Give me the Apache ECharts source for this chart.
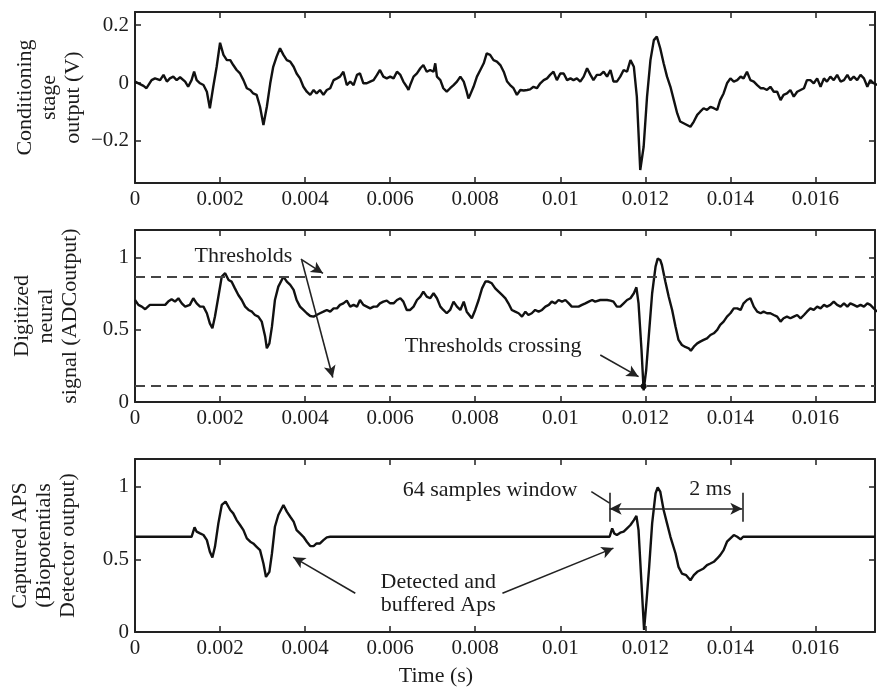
<!DOCTYPE html>
<html><head><meta charset="utf-8">
<script src="https://cdn.jsdelivr.net/npm/echarts@6/dist/echarts.min.js"></script>
<style>html,body{margin:0;padding:0;background:#fff}#c{width:877px;height:690px}</style>
</head><body><div id="c"></div>
<script>
// ---------- tick labels ----------
const timeTicks = [0, 0.002, 0.004, 0.006, 0.008, 0.01, 0.012, 0.014, 0.016];
const condTicks = [-0.2, 0, 0.2];
const adcTicks = [0, 0.5, 1];
const thresholds = [0.87, 0.11];

// ---------- panel 1: conditioning stage output (V) ----------
const condTime = [0,0.00004,0.00020,0.00027,0.00039,0.00047,0.00059,0.00067,0.00075,0.00082,0.00090,0.00098,0.00106,0.00118,0.00125,0.00133,0.00139,0.00145,0.00153,0.00161,0.00169,0.00176,0.00184,0.00192,0.00200,0.00208,0.00216,0.00224,0.00231,0.00239,0.00247,0.00255,0.00263,0.00271,0.00278,0.00286,0.00294,0.00302,0.00310,0.00318,0.00325,0.00333,0.00341,
0.00349,0.00357,0.00365,0.00373,0.00380,0.00388,0.00396,0.00404,0.00412,0.00420,0.00427,0.00435,0.00443,0.00451,0.00459,0.00467,0.00475,0.00482,0.00490,0.00498,0.00506,0.00514,0.00522,0.00529,0.00537,0.00545,0.00553,0.00561,0.00569,0.00576,0.00584,0.00592,0.00600,0.00608,0.00616,0.00624,0.00631,0.00639,0.00643,0.00647,0.00655,0.00663,0.00671,0.00678,0.00686,0.00694,0.00702,0.00706,0.00710,0.00718,0.00725,0.00733,0.00741,0.00749,0.00757,0.00765,0.00773,0.00780,0.00784,0.00788,0.00796,0.00804,0.00812,0.00820,0.00827,0.00835,0.00843,0.00851,0.00859,0.00867,0.00875,0.00882,0.00890,0.00898,0.00906,0.00914,0.00922,0.00929,0.00937,0.00945,0.00953,0.00961,0.00969,0.00976,0.00984,0.00992,0.01000,0.01008,0.01016,0.01024,0.01031,0.01039,0.01047,0.01055,0.01063,0.01071,0.01078,0.01086,
0.01094,0.01102,0.01110,0.01118,0.01125,0.01133,0.01141,0.01149,0.01157,0.01165,0.01173,0.01180,0.01188,0.01196,0.01204,0.01212,0.01220,0.01227,0.01235,0.01243,0.01251,0.01259,0.01267,0.01275,0.01282,0.01290,0.01298,0.01306,0.01314,0.01322,0.01329,0.01337,0.01345,0.01353,0.01361,0.01369,0.01376,0.01384,0.01392,0.01400,0.01408,0.01416,0.01424,0.01431,0.01439,0.01447,0.01455,0.01463,0.01471,0.01478,0.01486,0.01494,0.01502,0.01510,0.01518,0.01525,0.01533,0.01541,0.01549,0.01557,0.01565,0.01573,0.01580,0.01588,0.01596,0.01604,0.01612,0.01620,0.01627,0.01635,0.01643,0.01651,0.01659,0.01667,0.01675,0.01682,0.01690,0.01698,0.01706,0.01714,0.01722,0.01729,0.01737,0.01745];
const condValue = [0.005,-0.001,-0.010,-0.018,0.010,0.016,0.010,0.028,0.005,0.016,0.022,0.010,0.020,0.005,-0.013,0.010,0.039,0.010,-0.001,-0.007,-0.030,-0.087,-0.013,0.056,0.139,0.097,0.079,0.079,0.062,0.045,0.033,0.010,-0.018,-0.024,-0.036,-0.041,-0.082,-0.145,-0.082,-0.001,0.056,0.091,0.120,
0.097,0.079,0.074,0.056,0.033,0.016,-0.013,-0.030,-0.041,-0.024,-0.036,-0.024,-0.041,-0.024,-0.018,0.010,0.016,0.022,0.039,-0.007,0.005,-0.007,0.028,0.033,-0.001,-0.001,0.005,0.010,0.028,0.045,0.022,0.016,0.022,0.016,0.039,0.028,0.005,-0.013,-0.024,-0.007,0.022,0.033,0.051,0.062,0.039,0.045,0.039,0.068,0.022,0.010,-0.018,-0.030,-0.018,-0.007,0.005,0.022,0.005,-0.030,-0.053,-0.041,-0.013,0.022,0.045,0.068,0.102,0.097,0.079,0.074,0.062,0.039,0.005,-0.007,-0.018,-0.041,-0.024,-0.026,-0.024,-0.022,-0.013,-0.018,-0.001,0.010,0.016,0.028,0.039,0.010,0.033,0.033,0.010,0.016,0.010,0.016,0.005,0.022,0.051,0.028,0.010,0.028,
0.028,0.039,0.022,0.045,0.005,0.005,0.022,0.045,0.039,0.079,0.056,-0.047,-0.300,-0.220,-0.047,0.079,0.148,0.160,0.120,0.068,0.022,-0.013,-0.059,-0.105,-0.133,-0.139,-0.145,-0.151,-0.133,-0.110,-0.099,-0.087,-0.093,-0.082,-0.087,-0.093,-0.059,-0.036,-0.001,0.016,0.005,0.010,0.022,0.016,0.039,0.010,0.005,-0.007,-0.018,-0.018,-0.024,-0.013,-0.030,-0.030,-0.059,-0.041,-0.036,-0.024,-0.047,-0.030,-0.024,-0.018,0.010,0.010,-0.001,0.016,-0.013,0.016,0.005,0.022,0.010,0.028,0.005,0.010,0.028,0.010,0.022,0.010,0.028,0.016,-0.013,0.010,-0.001,-0.007];

// ---------- panel 2: digitized neural signal (ADC output) ----------
const adcTime = [0,0.00008,0.00016,0.00024,0.00035,0.00047,0.00059,0.00071,0.00078,0.00086,0.00094,0.00102,0.00110,0.00118,0.00129,0.00137,0.00145,0.00153,0.00161,0.00169,0.00176,0.00182,0.00188,0.00196,0.00204,0.00212,0.00220,0.00227,0.00235,0.00243,0.00251,0.00259,0.00267,0.00275,0.00282,0.00290,0.00298,0.00306,0.00310,0.00316,0.00322,0.00329,0.00337,0.00349,
0.00357,0.00365,0.00373,0.00380,0.00388,0.00396,0.00404,0.00412,0.00420,0.00427,0.00435,0.00443,0.00451,0.00459,0.00467,0.00475,0.00482,0.00490,0.00498,0.00506,0.00514,0.00522,0.00529,0.00537,0.00545,0.00553,0.00561,0.00569,0.00576,0.00584,0.00592,0.00600,0.00608,0.00616,0.00624,0.00631,0.00639,0.00647,0.00655,0.00663,0.00671,0.00678,0.00686,0.00694,0.00702,0.00710,0.00718,0.00725,0.00733,0.00741,0.00749,0.00757,0.00765,0.00773,0.00780,0.00792,0.00800,0.00808,0.00816,0.00824,0.00831,0.00839,0.00847,0.00855,0.00863,0.00871,0.00878,0.00886,0.00894,0.00902,0.00910,0.00918,0.00925,0.00933,0.00941,0.00949,0.00957,0.00965,0.00973,0.00980,0.00988,0.00996,0.01004,0.01012,0.01020,0.01027,0.01035,0.01043,0.01051,0.01059,0.01067,0.01075,0.01082,
0.01094,0.01102,0.01110,0.01118,0.01125,0.01133,0.01141,0.01149,0.01157,0.01165,0.01173,0.01179,0.01184,0.01191,0.01196,0.01202,0.01208,0.01216,0.01224,0.01229,0.01235,0.01239,0.01247,0.01255,0.01263,0.01271,0.01278,0.01286,0.01294,0.01302,0.01307,0.01314,0.01322,0.01329,0.01337,0.01345,0.01353,0.01361,0.01369,0.01376,0.01384,0.01392,0.01400,0.01408,0.01416,0.01424,0.01431,0.01439,0.01447,0.01455,0.01463,0.01471,0.01478,0.01486,0.01494,0.01502,0.01510,0.01518,0.01525,0.01533,0.01541,0.01549,0.01557,0.01565,0.01573,0.01580,0.01588,0.01596,0.01604,0.01612,0.01620,0.01627,0.01635,0.01643,0.01651,0.01659,0.01667,0.01675,0.01682,0.01690,0.01698,0.01706,0.01714,0.01722,0.01729,0.01737,0.01745];
const adcValue = [0.708,0.674,0.662,0.644,0.674,0.674,0.674,0.674,0.697,0.713,0.697,0.720,0.685,0.662,0.674,0.720,0.685,0.662,0.662,0.616,0.546,0.512,0.593,0.731,0.870,0.894,0.847,0.836,0.789,0.743,0.708,0.662,0.639,0.627,0.604,0.593,0.558,0.454,0.373,0.407,0.523,0.708,0.801,0.870,
0.836,0.813,0.778,0.708,0.662,0.639,0.616,0.597,0.593,0.604,0.616,0.627,0.639,0.627,0.650,0.650,0.674,0.685,0.704,0.662,0.674,0.662,0.708,0.674,0.662,0.650,0.662,0.662,0.685,0.697,0.704,0.685,0.685,0.708,0.720,0.697,0.639,0.639,0.662,0.708,0.731,0.766,0.731,0.720,0.755,0.720,0.662,0.639,0.616,0.639,0.697,0.662,0.639,0.697,0.627,0.581,0.639,0.708,0.789,0.836,0.836,0.824,0.789,0.766,0.743,0.720,0.685,0.639,0.627,0.616,0.593,0.627,0.604,0.616,0.639,0.627,0.639,0.662,0.674,0.697,0.685,0.708,0.697,0.708,0.685,0.662,0.662,0.662,0.674,0.685,0.697,0.708,0.697,
0.708,0.708,0.708,0.704,0.697,0.662,0.662,0.685,0.708,0.720,0.755,0.796,0.685,0.361,0.080,0.222,0.454,0.755,0.940,0.995,0.986,0.951,0.836,0.731,0.639,0.523,0.431,0.396,0.382,0.373,0.356,0.384,0.407,0.419,0.431,0.442,0.465,0.477,0.500,0.535,0.558,0.593,0.616,0.650,0.650,0.639,0.685,0.708,0.720,0.662,0.627,0.616,0.627,0.616,0.616,0.604,0.593,0.558,0.581,0.593,0.581,0.593,0.604,0.581,0.604,0.627,0.650,0.639,0.662,0.650,0.674,0.662,0.674,0.697,0.674,0.662,0.685,0.662,0.685,0.674,0.662,0.674,0.662,0.685,0.674,0.650,0.627];

// ---------- panel 3: captured APs (detector output) ----------
const capTime = [0,0.00133,0.00140,0.00145,0.00153,0.00161,0.00169,0.00176,0.00182,0.00188,0.00196,0.00204,0.00213,0.00224,0.00231,0.00239,0.00247,0.00255,0.00263,0.00271,0.00278,0.00286,0.00294,0.00302,0.00308,0.00316,0.00322,0.00329,0.00337,0.00349,0.00357,0.00365,0.00373,0.00380,0.00388,0.00396,0.00404,0.00412,0.00420,0.00427,0.00435,0.00443,0.00451,0.00459,
0.01116,0.01122,0.01127,0.01133,0.01141,0.01149,0.01157,0.01165,0.01173,0.01179,0.01184,0.01191,0.01197,0.01203,0.01209,0.01216,0.01224,0.01229,0.01235,0.01243,0.01251,0.01259,0.01271,0.01278,0.01286,0.01296,0.01306,0.01314,0.01322,0.01329,0.01337,0.01345,0.01353,0.01361,0.01369,0.01376,0.01384,0.01392,0.01400,0.01408,0.01416,0.01424,0.01430,0.0174];
const capValue = [0.655,0.655,0.720,0.690,0.678,0.667,0.632,0.552,0.513,0.586,0.747,0.874,0.897,0.839,0.816,0.770,0.736,0.701,0.644,0.621,0.609,0.586,0.563,0.471,0.379,0.414,0.540,0.724,0.805,0.874,0.828,0.793,0.759,0.701,0.678,0.655,0.621,0.591,0.591,0.609,0.609,0.632,0.651,0.655,
0.655,0.713,0.678,0.667,0.683,0.690,0.713,0.736,0.770,0.798,0.701,0.330,0.015,0.220,0.448,0.747,0.954,0.995,0.966,0.839,0.747,0.655,0.540,0.448,0.402,0.391,0.356,0.391,0.414,0.425,0.437,0.460,0.471,0.483,0.506,0.529,0.563,0.621,0.644,0.667,0.655,0.637,0.655,0.655];

// ---------- annotations (data coordinates) ----------
const windowStart = 0.01116, windowEnd = 0.01428;

const FONT = 'Liberation Serif';
const INK = '#1c1c1c';
const pairs = (t, v) => t.map((x, i) => [x, v[i]]);
const fmtTime = v => String(+(+v).toFixed(4));
const fmtY = v => String(+(+v).toFixed(3)).replace('-', '\u2212');

const grids = [
  {left: 135, width: 740, top: 12, height: 171},
  {left: 135, width: 740, top: 230, height: 172},
  {left: 135, width: 740, top: 459, height: 173}
];
const frame = {show: true, onZero: false, lineStyle: {color: '#222', width: 2}};
const tick = vals => ({show: true, inside: true, length: 6, customValues: vals, lineStyle: {color: '#222', width: 1.5}});
const labelStyle = {color: INK, fontFamily: FONT, fontSize: 21};

const xAxes = [], yAxes = [];
const yNames = ['Conditioning\nstage\noutput (V)', 'Digitized\nneural\nsignal (ADCoutput)', 'Captured APS\n(Biopotentials\nDetector output)'];
const yGaps = [50, 53, 55];
const yRanges = [[-0.345, 0.245], [0, 1.194], [0, 1.19]];
const yTicks = [condTicks, adcTicks, adcTicks];
for (let i = 0; i < 3; i++) {
  xAxes.push({
    type: 'value', gridIndex: i, position: 'bottom', min: 0, max: 0.0174,
    axisLine: frame, axisTick: tick(timeTicks), splitLine: {show: false},
    axisLabel: Object.assign({customValues: timeTicks, formatter: fmtTime, margin: 6, hideOverlap: false}, labelStyle),
    name: i === 2 ? 'Time (s)' : '', nameLocation: 'middle', nameGap: 33, nameMoveOverlap: false,
    nameTextStyle: {color: INK, fontFamily: FONT, fontSize: 22, padding: [0, 138, 0, 0]}
  });
  xAxes.push({
    type: 'value', gridIndex: i, position: 'top', min: 0, max: 0.0174,
    axisLine: frame, axisTick: tick(timeTicks), axisLabel: {show: false}, splitLine: {show: false}
  });
  yAxes.push({
    type: 'value', gridIndex: i, position: 'left', min: yRanges[i][0], max: yRanges[i][1],
    axisLine: frame, axisTick: tick(yTicks[i]), splitLine: {show: false},
    axisLabel: Object.assign({customValues: yTicks[i], formatter: fmtY, margin: 6}, labelStyle),
    name: yNames[i], nameLocation: 'middle', nameRotate: 90, nameGap: yGaps[i], nameMoveOverlap: false,
    nameTextStyle: {color: INK, fontFamily: FONT, fontSize: 22, lineHeight: 24, align: 'center'}
  });
  yAxes.push({
    type: 'value', gridIndex: i, position: 'right', min: yRanges[i][0], max: yRanges[i][1],
    axisLine: frame, axisTick: tick(yTicks[i]), axisLabel: {show: false}, splitLine: {show: false}
  });
}

const lineBase = {type: 'line', showSymbol: false, symbol: 'none', animation: false, silent: true,
  lineStyle: {color: '#111', width: 2.4}, itemStyle: {color: '#111'}};
const arrowLine = {color: '#222', width: 1.6, type: 'solid'};
const txt = (text, coord) => ({coord: coord, symbol: 'circle', symbolSize: 1, itemStyle: {color: 'rgba(0,0,0,0)'},
  label: {show: true, position: 'inside', formatter: text, color: INK, fontFamily: FONT, fontSize: 22, lineHeight: 23}});
const arrow = (a, b, startSym) => [{coord: a, symbol: startSym || 'none'}, {coord: b, symbol: 'arrow', lineStyle: arrowLine}];
const plain = (a, b) => [{coord: a, symbol: 'none'}, {coord: b, symbol: 'none', lineStyle: arrowLine}];

const series = [
  Object.assign({}, lineBase, {name: 'conditioning', xAxisIndex: 0, yAxisIndex: 0, data: pairs(condTime, condValue)}),
  Object.assign({}, lineBase, {name: 'adc', xAxisIndex: 2, yAxisIndex: 2, data: pairs(adcTime, adcValue),
    markLine: {silent: true, animation: false, symbol: 'none', symbolSize: [9, 12], label: {show: false},
      lineStyle: {color: '#444', width: 2, type: [10, 6]},
      data: thresholds.map(y => ({yAxis: y, lineStyle: {color: '#444', width: 2, type: [10, 6]}})).concat([
        arrow([0.00390, 0.992], [0.00442, 0.893]),
        arrow([0.00392, 0.985], [0.00465, 0.170]),
        arrow([0.01094, 0.326], [0.01184, 0.176])
      ])},
    markPoint: {silent: true, animation: false, data: [
      txt('Thresholds', [0.00255, 1.01]),
      txt('Thresholds crossing', [0.00842, 0.39]),
      {coord: [0.01196, 0.11], symbol: 'circle', symbolSize: 6, itemStyle: {color: '#111'}, label: {show: false}}
    ]}}),
  Object.assign({}, lineBase, {name: 'captured', xAxisIndex: 4, yAxisIndex: 4, data: pairs(capTime, capValue),
    markLine: {silent: true, animation: false, symbol: 'none', symbolSize: [9, 12], label: {show: false},
      lineStyle: arrowLine,
      data: [
        plain([windowStart, 0.759], [windowStart, 0.958]),
        plain([windowEnd, 0.759], [windowEnd, 0.958]),
        arrow([windowStart, 0.847], [windowEnd, 0.847], 'arrow'),
        plain([0.01073, 0.966], [windowStart, 0.886]),
        arrow([0.00518, 0.267], [0.00372, 0.515]),
        arrow([0.00864, 0.267], [0.01125, 0.577])
      ]},
    markPoint: {silent: true, animation: false, data: [
      txt('64 samples window', [0.00835, 0.975]),
      txt('2 ms', [0.01353, 0.984]),
      txt('Detected and\nbuffered Aps', [0.00713, 0.26])
    ]}})
];

const chart = echarts.init(document.getElementById('c'), null, {renderer: 'canvas'});
chart.setOption({
  backgroundColor: '#fff', animation: false,
  textStyle: {fontFamily: FONT},
  grid: grids, xAxis: xAxes, yAxis: yAxes, series: series
});
</script>
</body></html>
